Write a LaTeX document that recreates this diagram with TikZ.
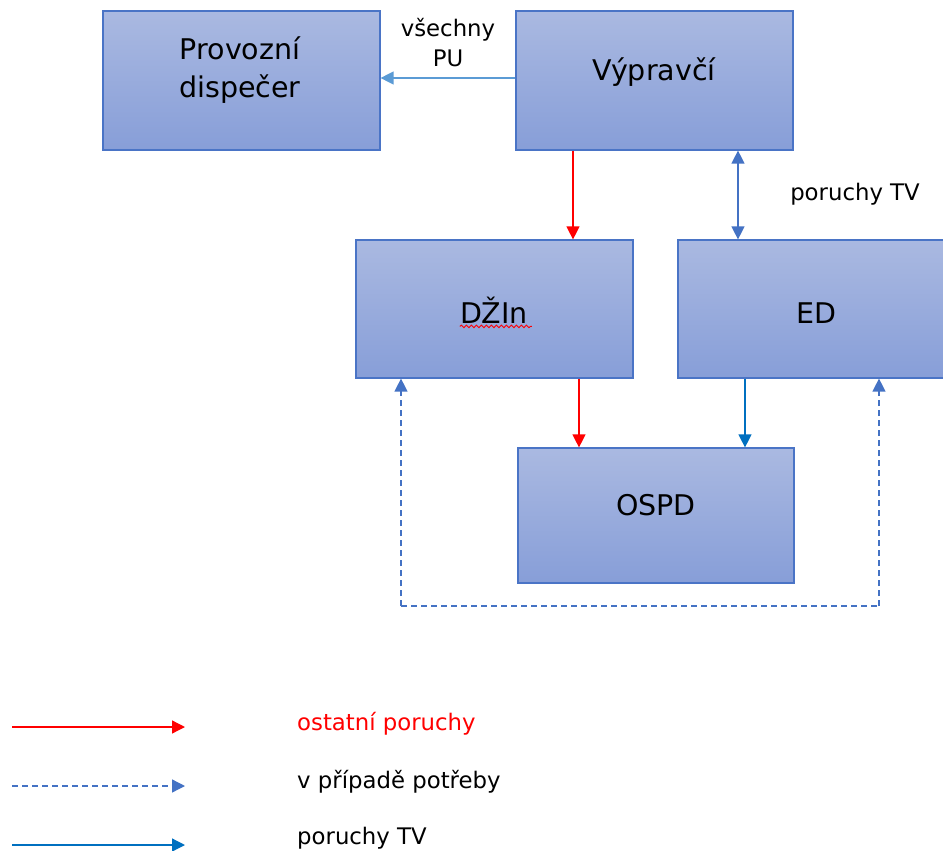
\documentclass[tikz,border=0pt]{standalone}
\usepackage{fontspec}
\setmainfont{DejaVu Sans}
\usetikzlibrary{arrows.meta,decorations.pathmorphing}
\definecolor{boxtop}{HTML}{AAB9E1}
\definecolor{boxbot}{HTML}{879ED8}
\definecolor{boxedge}{HTML}{4A74C6}
\definecolor{ltblue}{HTML}{5B9BD5}
\definecolor{midblue}{HTML}{4472C4}
\definecolor{dkblue}{HTML}{0070C0}
\tikzset{
  box/.style={rectangle, draw=boxedge, line width=1.2pt, top color=boxtop, bottom color=boxbot, minimum width=277pt, minimum height=138pt, inner sep=0pt},
  boxtext/.style={font=\fontsize{28.5}{38}\selectfont, align=center, text=black, inner sep=0pt},
  smalltext/.style={font=\fontsize{22.8}{30}\selectfont, align=center, text=black, inner sep=0pt},
  tip/.style={-{Triangle[length=13pt,width=13pt]}},
  redarr/.style={tip, draw=red, line width=1.3pt},
  ltarr/.style={tip, draw=ltblue, line width=1.3pt},
  dkarr/.style={tip, draw=dkblue, line width=1.3pt},
  dbl/.style={{Triangle[length=13pt,width=13pt]}-{Triangle[length=13pt,width=13pt]}, draw=midblue, line width=1.3pt},
  dasharr/.style={draw=midblue, line width=1.3pt, dash pattern=on 6pt off 4pt},
}
\begin{document}
\begin{tikzpicture}[x=1pt,y=-1pt]
\clip (0,0) rectangle (943,851);
\fill[white] (0,0) rectangle (943,851);
% boxes
\node[box, minimum height=139pt] (prov) at (241.5,80.5) {};
\node[box, minimum height=139pt] (vyp) at (654.5,80.5) {};
\node[box] (dzin) at (494.5,309) {};
\node[box] (ed) at (816.5,309) {};
\node[box, minimum width=276pt, minimum height=135pt] (ospd) at (656,515.5) {};
% box texts
\node[boxtext] (provT) at (240,70) {Provozní\\dispečer};
\node[boxtext] (vypT) at (654,72) {Výpravčí};
\node[boxtext] (dzinT) at (494,310) {DŽIn};
\node[boxtext] (edT) at (816,313) {ED};
\node[boxtext] (ospdT) at (656,505) {OSPD};
\draw[red, line width=0.9pt, decorate, decoration={snake, amplitude=1.3pt, segment length=5pt}] (dzinT.south west) ++(0,3) -- ++(72,0);
% labels
\node[smalltext] (lblPU) at (448,43) {všechny\\PU};
\node[smalltext] (lblTV) at (855,194) {poruchy TV};
% connectors
\coordinate (xa) at (573,0);
\coordinate (xb) at (738,0);
\coordinate (xc) at (579,0);
\coordinate (xd) at (745,0);
\coordinate (xe) at (401,0);
\coordinate (xf) at (879,0);
\coordinate (ya) at (0,78);
\coordinate (yd) at (0,606);
\draw[ltarr] (vyp.west |- ya) -- (prov.east |- ya);
\draw[redarr] (vyp.south -| xa) -- (dzin.north -| xa);
\draw[dbl] (vyp.south -| xb) -- (ed.north -| xb);
\draw[redarr] (dzin.south -| xc) -- (ospd.north -| xc);
\draw[dkarr] (ed.south -| xd) -- (ospd.north -| xd);
\coordinate (dl) at (xe |- yd);
\coordinate (dr) at (xf |- yd);
\draw[dasharr] (dl) -- (dr);
\draw[dasharr, tip] (dl) -- (dzin.south -| xe);
\draw[dasharr, tip] (dr) -- (ed.south -| xf);
% legend
\coordinate (l1a) at (12,727); \coordinate (l1b) at (185,727);
\coordinate (l2a) at (12,786); \coordinate (l2b) at (185,786);
\coordinate (l3a) at (12,845); \coordinate (l3b) at (185,845);
\draw[redarr] (l1a) -- (l1b);
\draw[dasharr, tip] (l2a) -- (l2b);
\draw[dkarr] (l3a) -- (l3b);
\node[smalltext, anchor=west, text=red] (leg1) at (297,724) {ostatní poruchy};
\node[smalltext, anchor=west] (leg2) at (297,782) {v případě potřeby};
\node[smalltext, anchor=west] (leg3) at (297,838) {poruchy TV};
\end{tikzpicture}
\end{document}
